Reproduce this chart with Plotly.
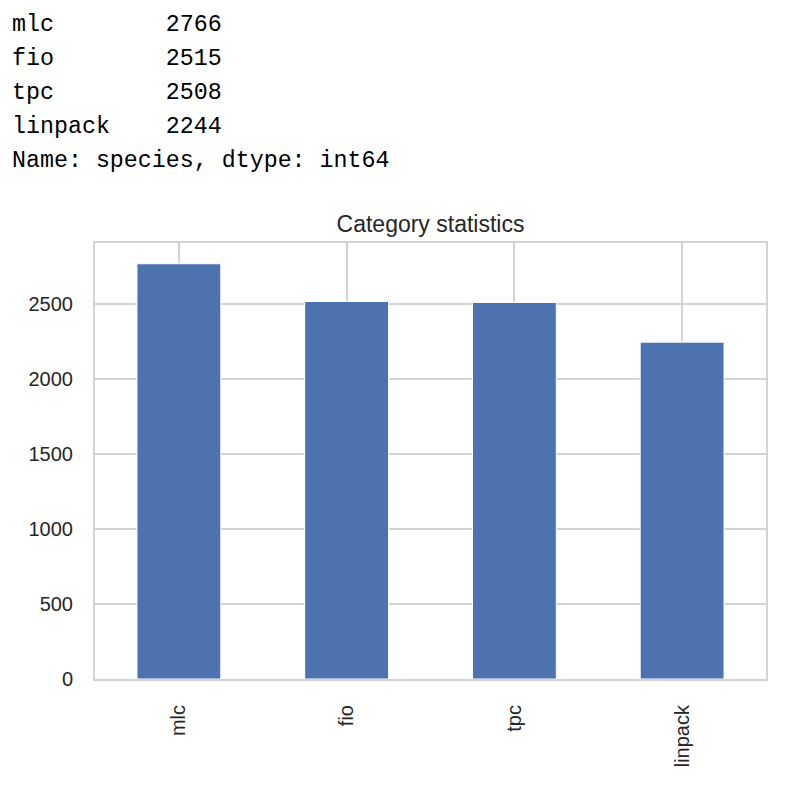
import plotly.graph_objects as go

# value_counts of the "species" column
categories = ["mlc", "fio", "tpc", "linpack"]
counts = [2766, 2515, 2508, 2244]
y_ticks = [0, 500, 1000, 1500, 2000, 2500]

W, H = 797, 793
OFF = 8  # body margin of the html page
# plot area in page pixels
PX0, PX1, PY0, PY1 = 95, 766, 243, 679
L, T = PX0 - OFF, PY0 - OFF
R, B = W - (PX1 - OFF), H - (PY1 - OFF)
plot_w = PX1 - PX0
plot_h = PY1 - PY0

bar_color = "#4c72b0"
grid_color = "#d3d3d3"
text_color = "#262626"

fig = go.Figure()

fig.add_trace(go.Bar(
    x=categories,
    y=counts,
    width=0.5,
    marker=dict(color=bar_color, line=dict(color="white", width=1)),
    hoverinfo="x+y",
))

# pandas Series printout above the chart
lines = [f"{c:<11}{v}" for c, v in zip(categories, counts)]
lines.append("Name: species, dtype: int64")
line_y = [25, 59, 93, 127, 161]
annotations = []
for txt, py in zip(lines, line_y):
    annotations.append(dict(
        text=txt.replace(" ", "&nbsp;"),
        xref="paper", yref="paper",
        x=(10 - PX0) / plot_w, y=(PY1 - py) / plot_h,
        xanchor="left", yanchor="middle",
        showarrow=False,
        font=dict(family="Liberation Mono", size=23.3, color="#000000"),
    ))

fig.update_layout(
    width=W, height=H,
    margin=dict(l=L, r=R, t=T, b=B, autoexpand=False),
    paper_bgcolor="white",
    plot_bgcolor="white",
    showlegend=False,
    font=dict(family="Liberation Sans, Arial", size=20, color=text_color),
    title=dict(
        text="Category statistics",
        xref="paper", x=0.5, xanchor="center",
        yref="container", y=1 - (224 - OFF) / H, yanchor="middle",
        font=dict(size=23, color=text_color),
    ),
    annotations=annotations,
    xaxis=dict(
        range=[-0.5, 3.5],
        tickangle=-90,
        showgrid=True, gridcolor=grid_color, gridwidth=1.5,
        showline=True, linecolor=grid_color, linewidth=2, mirror=True,
        ticks="outside", ticklen=16, tickcolor="rgba(0,0,0,0)",
        zeroline=False,
    ),
    yaxis=dict(
        range=[0, max(counts) * 1.05],
        tickvals=y_ticks,
        showgrid=True, gridcolor=grid_color, gridwidth=1.5,
        showline=True, linecolor=grid_color, linewidth=2, mirror=True,
        ticks="outside", ticklen=16, tickcolor="rgba(0,0,0,0)",
        zeroline=False,
    ),
)

fig.write_html("out.html")
